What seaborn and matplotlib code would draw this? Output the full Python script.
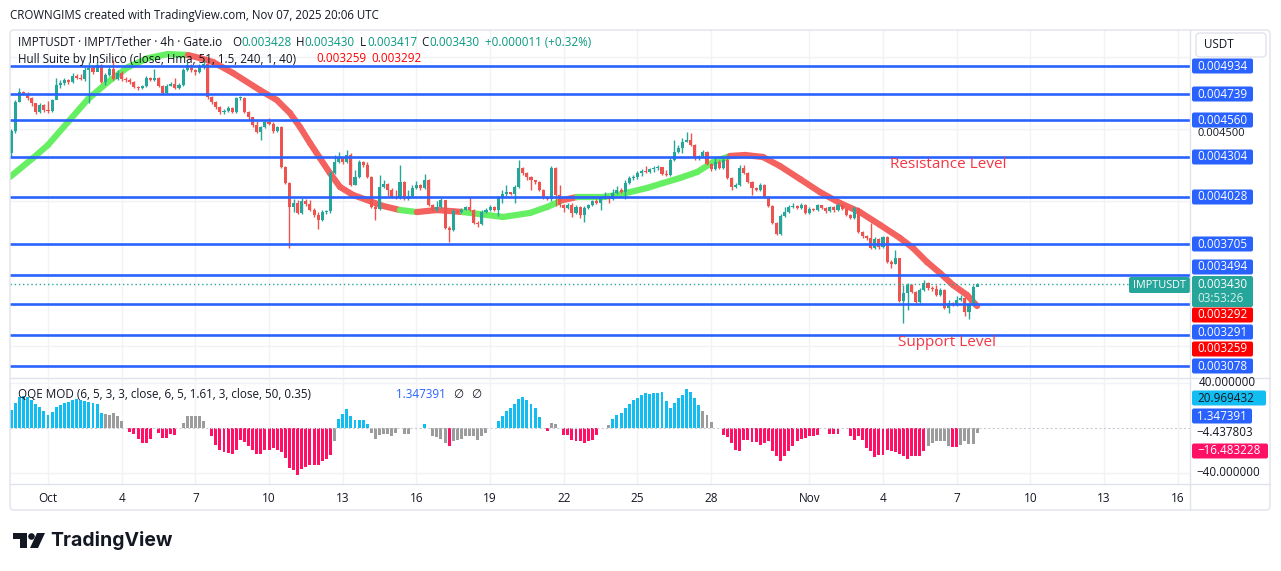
import numpy as np
import pandas as pd
import matplotlib
matplotlib.use("Agg")
import matplotlib.pyplot as plt
from matplotlib.patches import FancyBboxPatch, Polygon, Circle
from matplotlib.collections import LineCollection
import seaborn as sns

#%% data (prices in 1e-6 USDT, 4h candles, day 0 = Oct 1 00:00 UTC)
first_open_e6 = 4333
close_e6 = [
  4485, 4685, 4755, 4741, 4713, 4679, 4616, 4665, 4630, 4623,
  4699, 4803, 4817, 4837, 4824, 4865, 4851, 4844, 4906, 4920,
  4893, 4941, 4824, 4872, 4913, 4844, 4886, 4844, 4837, 4824,
  4789, 4782, 4796, 4851, 4837, 4851, 4796, 4748, 4796, 4810,
  4782, 4803, 4906, 4941, 4906, 4893, 4934, 4948, 4720, 4685,
  4651, 4616, 4623, 4644, 4616, 4713, 4713, 4616, 4582, 4527,
  4478, 4513, 4547, 4534, 4485, 4513, 4237, 4126, 3961, 3988,
  3920, 4002, 3981, 3940, 3906, 3871, 3926, 3933, 4195, 4271,
  4299, 4271, 4320, 4113, 4168, 4271, 4251, 4168, 3961, 3947,
  4099, 4120, 4078, 4030, 4023, 4133, 4016, 4037, 4092, 4113,
  4092, 4147, 3974, 3940, 3961, 4009, 3816, 3802, 3933, 3926,
  3940, 3961, 3940, 3850, 3843, 3926, 3940, 3961, 3940, 4023,
  4051, 4064, 4051, 4099, 4230, 4195, 4168, 4147, 4133, 4078,
  4030, 4016, 4230, 4044, 3974, 3954, 3974, 3920, 3961, 3906,
  3954, 3974, 4002, 3988, 4030, 4037, 4016, 4058, 4078, 4064,
  4126, 4161, 4168, 4195, 4209, 4202, 4223, 4230, 4237, 4188,
  4182, 4285, 4340, 4368, 4409, 4423, 4389, 4299, 4313, 4340,
  4258, 4223, 4271, 4230, 4285, 4161, 4099, 4113, 4230, 4195,
  4133, 4092, 4078, 4113, 4030, 3968, 3850, 3774, 3899, 3926,
  3961, 3968, 3954, 3974, 3920, 3947, 3940, 3974, 3954, 3933,
  3961, 3940, 3974, 3947, 3906, 3885, 3954, 3788, 3760, 3747,
  3678, 3740, 3684, 3753, 3581, 3567, 3609, 3312, 3367, 3423,
  3374, 3305, 3388, 3436, 3402, 3395, 3353, 3388, 3263, 3298,
  3284, 3319, 3333, 3236, 3284, 3409, 3430,
]
high_e6 = [
  4499, 4699, 4782, 4761, 4755, 4720, 4679, 4679, 4672, 4692,
  4706, 4851, 4837, 4851, 4844, 4886, 4879, 4879, 4927, 4962,
  4934, 4962, 4948, 4886, 4927, 4975, 4906, 4900, 4858, 4851,
  4830, 4796, 4803, 4865, 4858, 4913, 4858, 4803, 4810, 4824,
  4851, 4817, 4920, 4962, 4948, 4913, 4948, 4975, 4962, 4727,
  4692, 4658, 4637, 4658, 4651, 4720, 4727, 4720, 4623, 4582,
  4554, 4520, 4561, 4575, 4547, 4520, 4520, 4244, 4133, 4016,
  4009, 4023, 4016, 4009, 3954, 3926, 3940, 3940, 4209, 4320,
  4340, 4306, 4354, 4333, 4216, 4285, 4278, 4271, 4175, 3974,
  4182, 4147, 4126, 4092, 4078, 4251, 4140, 4078, 4113, 4140,
  4120, 4188, 4154, 3981, 4002, 4023, 4009, 3830, 3947, 3940,
  3954, 3968, 4030, 3947, 3864, 3940, 3954, 3974, 3968, 4037,
  4078, 4113, 4064, 4113, 4285, 4237, 4202, 4175, 4147, 4140,
  4085, 4037, 4244, 4237, 4113, 3981, 3988, 3988, 3974, 3968,
  3968, 3981, 4009, 4016, 4037, 4064, 4037, 4085, 4106, 4092,
  4147, 4175, 4182, 4209, 4223, 4244, 4230, 4244, 4251, 4237,
  4216, 4299, 4423, 4389, 4437, 4478, 4471, 4396, 4320, 4354,
  4347, 4264, 4299, 4285, 4306, 4299, 4168, 4126, 4251, 4251,
  4202, 4140, 4099, 4126, 4120, 4037, 3974, 3857, 3913, 3961,
  3974, 3988, 3974, 3988, 3981, 3961, 3954, 3981, 3974, 3961,
  3968, 3968, 3988, 3981, 3954, 3913, 3968, 3961, 3795, 3767,
  3850, 3753, 3747, 3760, 3760, 3595, 3664, 3609, 3423, 3436,
  3430, 3381, 3402, 3457, 3443, 3416, 3423, 3402, 3395, 3319,
  3305, 3346, 3353, 3339, 3305, 3423, 3436,
]
low_e6 = [
  4306, 4471, 4685, 4734, 4699, 4658, 4603, 4610, 4616, 4610,
  4616, 4706, 4782, 4803, 4810, 4817, 4844, 4837, 4830, 4679,
  4879, 4900, 4817, 4803, 4865, 4837, 4837, 4830, 4824, 4810,
  4782, 4768, 4775, 4789, 4830, 4830, 4789, 4741, 4741, 4796,
  4775, 4775, 4796, 4900, 4893, 4872, 4886, 4913, 4706, 4672,
  4637, 4603, 4603, 4616, 4610, 4610, 4699, 4610, 4561, 4513,
  4471, 4423, 4506, 4527, 4471, 4478, 4230, 4120, 3678, 3926,
  3913, 3913, 3968, 3933, 3892, 3809, 3864, 3913, 3920, 4188,
  4264, 4258, 4264, 4106, 4113, 4161, 4237, 4161, 3954, 3871,
  3940, 4092, 4037, 4023, 4016, 4016, 4009, 4009, 4030, 4085,
  4078, 4085, 3968, 3933, 3933, 3954, 3809, 3719, 3795, 3920,
  3920, 3940, 3933, 3843, 3823, 3837, 3920, 3933, 3933, 3899,
  3988, 4037, 4044, 3988, 4092, 4182, 4147, 4078, 4120, 4071,
  4016, 4009, 4002, 3968, 3961, 3926, 3947, 3892, 3913, 3885,
  3857, 3947, 3968, 3981, 3940, 4016, 3988, 4009, 4051, 4058,
  4016, 4120, 4147, 4154, 4175, 4195, 4195, 4202, 4216, 4182,
  4175, 4175, 4278, 4333, 4333, 4409, 4382, 4285, 4285, 4306,
  4251, 4209, 4216, 4223, 4223, 4154, 4078, 4092, 4106, 4188,
  4126, 4044, 4071, 4071, 4023, 3961, 3843, 3767, 3767, 3892,
  3920, 3954, 3947, 3947, 3913, 3913, 3933, 3933, 3947, 3920,
  3926, 3926, 3933, 3940, 3899, 3878, 3878, 3781, 3747, 3733,
  3671, 3671, 3671, 3678, 3574, 3540, 3567, 3305, 3160, 3250,
  3367, 3298, 3298, 3381, 3388, 3381, 3346, 3346, 3256, 3229,
  3277, 3277, 3312, 3208, 3187, 3277, 3416,
]

# Hull Suite band (day, value, trend G/R)
hull_day = [
  -1.55, -0.61, 0.0, 0.81, 1.63, 2.44, 3.26, 4.07, 4.89, 5.70,
  6.19, 6.72, 7.53, 8.63, 9.32, 9.85, 10.26, 10.67, 11.07, 11.48,
  11.89, 12.42, 12.99, 13.64, 14.33, 15.02, 15.84, 16.90, 18.53, 19.63,
  20.32, 20.97, 21.54, 22.60, 23.17, 23.70, 24.39, 25.04, 25.73, 26.43,
  27.08, 27.77, 28.38, 29.11, 29.80, 30.62, 31.43, 32.25, 33.06, 33.88,
  34.69, 35.22, 35.79, 36.32, 36.85, 37.42, 37.83,
]
hull_e6 = [
  4168, 4299, 4389, 4547, 4706, 4824, 4927, 4989, 5017, 5010,
  4989, 4962, 4886, 4768, 4699, 4610, 4513, 4402, 4299, 4195,
  4099, 4044, 4009, 3968, 3940, 3926, 3940, 3926, 3892, 3920,
  3961, 4009, 4030, 4030, 4044, 4064, 4092, 4126, 4161, 4202,
  4271, 4313, 4320, 4306, 4244, 4154, 4064, 3988, 3926, 3837,
  3747, 3678, 3581, 3505, 3422, 3353, 3277,
]
hull_dir = "GGGGGGGGGG" + "RRRRRRRRRRRRRRR" + "G" + "RR" + "GGGG" + "R" + "GGGGGGGGG" + "RRRRRRRRRRRRRRR"

# user drawn horizontal levels
levels_e6 = [4934, 4739, 4560, 4304, 4028, 3705, 3494, 3291, 3078, 2863]

# QQE MOD histogram (one bar per candle), B=blue G=gray R=red N=none
qqe_vals = [
  16.0, 22.5, 27.8, 28.7, 27.8, 24.9, 21.3, 18.4, 15.4, 11.6,
  14.2, 18.4, 20.4, 22.5, 23.4, 24.9, 25.5, 24.9, 24.3, 23.4,
  22.5, 21.3, 13.0, 12.4, 11.6, 13.0, 10.4, 5.9, 0.0, -3.3,
  -5.0, -9.8, -13.3, -13.3, -9.8, 0.0, -4.4, -8.9, -8.9, -5.0,
  -5.9, 0.0, 4.4, 11.0, 11.0, 10.4, 10.4, 5.9, 0.0, -6.8,
  -14.8, -19.9, -21.6, -22.2, -22.8, -19.9, -10.4, -12.7, -15.7, -19.3,
  -22.8, -23.4, -19.9, -19.3, -17.8, -19.3, -21.6, -26.7, -35.6, -37.6,
  -41.5, -36.5, -34.7, -32.6, -32.6, -32.6, -29.6, -27.6, -23.7, -11.9,
  8.0, 12.4, 16.6, 11.0, 6.8, 7.4, 7.4, 3.9, -4.4, -9.8,
  -5.9, -5.0, -5.0, -6.8, -4.4, 0.0, -5.0, -5.0, 0.0, 0.0,
  0.0, 3.9, 0.0, -7.4, -8.0, -9.8, -13.3, -16.3, -11.9, -10.4,
  -9.8, -6.8, -7.4, -6.8, -11.0, -7.4, -4.4, 0.0, 0.0, 5.9,
  11.0, 14.8, 17.8, 21.6, 25.8, 27.6, 25.2, 21.6, 17.8, 9.8,
  0.0, -3.0, 4.4, 3.9, 0.0, -5.9, -5.9, -11.0, -11.9, -11.9,
  -13.3, -11.9, -10.4, -5.9, 0.0, 0.0, 3.0, 8.0, 11.9, 13.3,
  17.8, 21.6, 25.2, 26.7,
  29.3, 30.8, 30.2, 30.8, 31.4, 32.3, 24.3, 17.8, 22.0, 26.4,
  29.3, 34.4, 32.3, 27.0, 20.4,
  14.8, 11.9, 5.0,
  0.0, 0.0,
  -5.9, -8.0, -13.3, -19.3, -20.7, -10.4, -10.4, -12.7, -12.7, -14.8,
  -13.3, -11.9, -20.7, -25.2, -29.6, -24.6, -20.7, -16.3, -11.9, -9.8,
  -8.9, -7.4, -6.8, -5.9,
  0.0, 0.0,
  -5.0, -5.0, -5.0,
  0.0, 0.0,
  -6.8, -10.4, -6.8, -11.0, -17.8, -20.7, -26.0, -23.7, -23.7, -19.3,
  -20.7, -21.6, -22.8, -25.2, -27.6, -25.2, -25.2, -25.2, -20.7,
  -15.7, -13.3, -11.9, -11.9, -11.9, -16.3,
  -16.9, -16.9,
  -14.8, -11.9, -14.2, -14.2, -4.4,
]
qqe_cols = ("B" * 23 + "G" * 5 + "N" + "R" * 6 + "N" + "R" * 5 + "N" + "G" * 6 + "N"
            + "R" * 30 + "G" + "B" * 8 + "G" * 7 + "N" + "GG" + "NNN" + "B" + "N"
            + "G" * 4 + "R" + "G" * 9 + "NN" + "B" * 11 + "N" + "R" + "GG" + "N"
            + "R" * 9 + "NN" + "G" + "B" * 7
            + "B" * 15 + "G" * 3 + "NN" + "R" * 24 + "NN" + "R" * 3 + "NN"
            + "R" * 19 + "G" * 6 + "RR" + "G" * 5)

tick_days = [0, 3, 6, 9, 12, 15, 18, 21, 24, 27, 31, 34, 37, 40, 43, 46]
tick_labels = ['Oct', '4', '7', '10', '13', '16', '19', '22', '25', '28',
               'Nov', '4', '7', '10', '13', '16']

#%% style
W, H = 1281, 571
sns.set_theme(style='white')
plt.rcParams['font.family'] = ['Open Sans', 'DejaVu Sans']

colors = {
  'up': '#26a69a',
  'down': '#ef5350',
  'hull_up': '#66ef62',
  'hull_down': '#f4625f',
  'level': '#2962ff',
  'text': '#131722',
  'teal_text': '#089981',
  'grid': '#f0f2f6',
  'border': '#e0e3eb',
  'q_blue': '#12bdf2',
  'q_gray': '#9c9c9c',
  'q_red': '#ff1065',
}

fig = plt.figure(figsize=(W / 100, H / 100), dpi=100)
fig.patch.set_facecolor('white')

ax = fig.add_axes([10 / W, 1 - 377 / H, 1180 / W, 347 / H])
ax2 = fig.add_axes([10 / W, 1 - 484 / H, 1180 / W, 106 / H])

#%% candles
n = len(close_e6)
t = -1.5 + np.arange(n) / 6
c = np.array(close_e6) * 1e-6
o = np.r_[first_open_e6 * 1e-6, c[:-1]]
hi = np.array(high_e6) * 1e-6
lo = np.array(low_e6) * 1e-6
col = np.where(c >= o, colors['up'], colors['down'])

# hull band under the candles
pts = np.column_stack([hull_day, np.array(hull_e6) * 1e-6])
segs = np.stack([pts[:-1], pts[1:]], axis=1)
seg_cols = [colors['hull_up'] if d == 'G' else colors['hull_down'] for d in hull_dir[1:]]
ax.add_collection(LineCollection(segs, colors=seg_cols, linewidths=4.5,
                                 capstyle='round', joinstyle='round', zorder=2))

ax.vlines(t, lo, hi, colors=col, lw=1, zorder=3)
body = np.maximum(np.abs(c - o), 0.000006)
ax.bar(t, body, bottom=np.minimum(o, c), width=0.125, color=col, linewidth=0, zorder=3)

for lv in levels_e6:
  ax.axhline(lv * 1e-6, color=colors['level'], lw=1.9, zorder=4)
ax.axhline(c[-1], color=colors['up'], lw=1, ls=(0, (1, 2)), zorder=4)

ax.set_xlim(-1.547, 46.5)
ax.set_ylim(0.002787, 0.005183)
ax.set_xticks(tick_days)
ax.set_yticks([0.003, 0.0035, 0.004, 0.0045, 0.005])
ax.tick_params(labelbottom=False, labelleft=False, length=0)
ax.grid(True, color=colors['grid'], lw=1)
for s in ax.spines.values():
  s.set_visible(False)

#%% QQE histogram
qqe = pd.DataFrame({'t': t, 'v': qqe_vals, 'c': list(qqe_cols)})
qqe = qqe[qqe['c'] != 'N']
sns.barplot(data=qqe, x='t', y='v', hue='c', native_scale=True, dodge=False,
            palette={'B': colors['q_blue'], 'G': colors['q_gray'], 'R': colors['q_red']},
            width=0.72, saturation=1, linewidth=0, errorbar=None, legend=False, ax=ax2)
ax2.axhline(0, color='#c9ccd4', lw=0.8, ls=(0, (2, 2)))
ax2.set_xlim(-1.547, 46.5)
ax2.set_ylim(-49.8, 44.4)
ax2.set_xticks(tick_days)
ax2.set_xticklabels(tick_labels, fontsize=8.5, color=colors['text'])
ax2.set_yticks([-40, 40])
ax2.tick_params(axis='x', length=0, pad=6)
ax2.tick_params(labelleft=False, length=0)
ax2.grid(True, color=colors['grid'], lw=1)
ax2.set_xlabel('')
ax2.set_ylabel('')
for s in ax2.spines.values():
  s.set_visible(False)

#%% overlay in pixel coordinates
ov = fig.add_axes([0, 0, 1, 1], zorder=10)
ov.set_xlim(0, W)
ov.set_ylim(H, 0)
ov.axis('off')

# frame and separators
ov.add_patch(FancyBboxPatch((10, 30), 1260, 480, boxstyle='round,pad=0,rounding_size=4',
                            facecolor='none', edgecolor=colors['border'], lw=1))
ov.plot([10, 1270], [377.5, 377.5], color=colors['border'], lw=1)
ov.plot([10, 1270], [484, 484], color=colors['border'], lw=1)
ov.plot([1190, 1190], [30, 510], color=colors['border'], lw=1)

def txt(x, y, s, color=colors['text'], size=8.5, **kw):
  ov.text(x, y, s, color=color, fontsize=size, va='center', **kw)

txt(10, 15, 'CROWNGIMS created with TradingView.com, Nov 07, 2025 20:06 UTC', size=8.3)

# legend rows
txt(18, 42, 'IMPTUSDT · IMPT/Tether · 4h · Gate.io', size=8.4)
for x, s, cl in [(232, 'O', colors['text']), (241, '0.003428', colors['teal_text']),
                 (296, 'H', colors['text']), (304, '0.003430', colors['teal_text']),
                 (360, 'L', colors['text']), (367, '0.003417', colors['teal_text']),
                 (421, 'C', colors['text']), (429, '0.003430', colors['teal_text']),
                 (485, '+0.000011 (+0.32%)', colors['teal_text'])]:
  txt(x, 42, s, color=cl, size=8.4)
txt(18, 59, 'Hull Suite by InSilico (close, Hma, 51, 1.5, 240, 1, 40)', size=8.4)
txt(316, 59, '0.003259', color='#ff0000', size=8.4)
txt(371, 59, '0.003292', color='#ff0000', size=8.4)

txt(18, 395, 'QQE MOD (6, 5, 3, 3, close, 6, 5, 1.61, 3, close, 50, 0.35)', size=8.4)
txt(396, 394, '1.347391', color=colors['level'], size=8.4)
txt(453, 394, '∅', size=8.4)
txt(471, 394, '∅', size=8.4)

txt(890, 165, 'Resistance Level', color='#f23645', size=11)
txt(898, 343, 'Support Level', color='#f23645', size=11)

# price scale
ov.add_patch(FancyBboxPatch((1196, 33), 70, 24, boxstyle='round,pad=0,rounding_size=4',
                            facecolor='white', edgecolor=colors['border'], lw=1))
txt(1204, 45, 'USDT', size=8.4)
txt(1198, 133, '0.004500', size=8.0)

def tag(y, s, bg, fg='white', x0=1192, w=61, h=15):
  ov.add_patch(FancyBboxPatch((x0, y - h / 2), w, h, boxstyle='round,pad=0,rounding_size=2',
                              facecolor=bg, edgecolor='none'))
  txt(x0 + 5, y, s, color=fg, size=8.4)

for y, s in [(66, '0.004934'), (94, '0.004739'), (120, '0.004560'), (157, '0.004304'),
             (197, '0.004028'), (244, '0.003705'), (267, '0.003494'), (332, '0.003291'),
             (366, '0.003078')]:
  tag(y, s, colors['level'])
tag(315, '0.003292', '#ff0000')
tag(349, '0.003259', '#ff0000')
ov.add_patch(FancyBboxPatch((1192, 276), 61, 31, boxstyle='round,pad=0,rounding_size=2',
                            facecolor=colors['up'], edgecolor='none'))
txt(1197, 284, '0.003430', color='white', size=8.4)
txt(1197, 299, '03:53:26', color='#d9f2ef', size=8.4)
ov.add_patch(FancyBboxPatch((1129, 277), 61, 16, boxstyle='round,pad=0,rounding_size=2',
                            facecolor=colors['up'], edgecolor='none'))
txt(1133, 285, 'IMPTUSDT', color='white', size=7.8)

# indicator scale
txt(1199, 383, '40.000000', size=8.4)
tag(398, '20.969432', colors['q_blue'], fg=colors['text'], w=74)
tag(416, '1.347391', colors['level'], w=60)
txt(1196, 433, '\u22124.437803', size=8.4)
tag(451, '\u221216.483228', colors['q_red'], w=76)
txt(1196, 473, '\u221240.000000', size=8.4)

# logo
ov.add_patch(Polygon([(13, 533), (27, 533), (27, 548), (20, 548), (20, 539), (13, 539)],
                     closed=True, facecolor='#131722', edgecolor='none'))
ov.add_patch(Circle((31.5, 536.5), 3.3, facecolor='#131722', edgecolor='none'))
ov.add_patch(Polygon([(37, 533), (45, 533), (38, 548), (30, 548)],
                     closed=True, facecolor='#131722', edgecolor='none'))
ov.text(50, 541, 'TradingView', fontsize=14, fontweight='bold', family='Inter',
        color='#131722', va='center')

fig.savefig('out.png', dpi=100)
